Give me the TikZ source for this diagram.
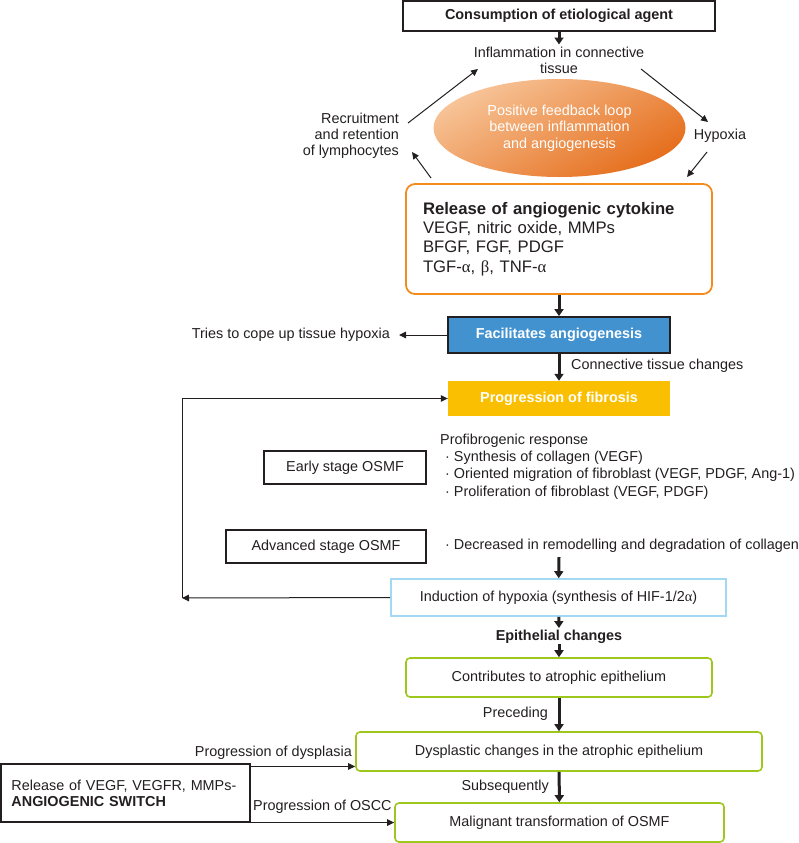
\documentclass[tikz,border=0pt]{standalone}
\usepackage{fontspec}
\setmainfont{Liberation Sans}
\newfontfamily\grkfont{Liberation Serif}
\usepackage{tikz}
\usetikzlibrary{
    arrows.meta,
    shapes.geometric
}
\definecolor{inkDark}{RGB}{35,31,32}
\definecolor{cytOrange}{RGB}{242,140,30}
\definecolor{loopLight}{RGB}{247,196,152}
\definecolor{loopDark}{RGB}{229,110,28}
\definecolor{angBlue}{RGB}{66,146,208}
\definecolor{fibGold}{RGB}{249,191,0}
\definecolor{hypBlue}{RGB}{163,216,243}
\definecolor{epiGreen}{RGB}{158,199,30}
\tikzset{
  lbl/.style     = {text=inkDark, inner sep=0pt, align=center,
                    font=\fontsize{14.4}{16}\selectfont},
  box/.style     = {lbl, draw=inkDark, line width=1.1pt},
  gbox/.style    = {lbl, draw=epiGreen, line width=1.6pt, rounded corners=4pt},
  arr/.style     = {-{Triangle[length=7pt,width=9pt]}, line width=3pt, inkDark},
  arrs/.style    = {-{Triangle[length=7pt,width=6.5pt]}, line width=1pt, inkDark}
}

\begin{document}
\begin{tikzpicture}[x=1pt, y=-1pt]
    \useasboundingbox (0,0) rectangle (799,843);

    \node[box, font=\fontsize{14.4}{16}\selectfont\bfseries,
          minimum width=312, minimum height=30] (consume) at (559,16)
          {Consumption of etiological agent};
    \node[lbl] (inflam) at (559,60) {Inflammation in connective\\tissue};
    \node[ellipse, inner sep=0pt, minimum width=252, minimum height=98,
          top color=loopLight, bottom color=loopDark, shading angle=30,
          text=white, align=center, font=\fontsize{14.4}{16.5}\selectfont]
          (loop) at (559.5,128)
          {Positive feedback loop\\between inflammation\\and angiogenesis};
    \node[lbl, align=right, anchor=east] (recruit) at (399,136)
          {Recruitment\\and retention\\of lymphocytes};
    \node[lbl] (hypo) at (720,136) {Hypoxia};

    \node[lbl, draw=cytOrange, line width=1.8pt, rounded corners=9pt,
          minimum width=306, minimum height=110, text width=272, align=left,
          font=\fontsize{16.7}{19.3}\selectfont] (cyto) at (559,239)
          {\textbf{Release of angiogenic cytokine}\\
           VEGF, nitric oxide, MMPs\\
           BFGF, FGF, PDGF\\
           TGF-{\grkfont α}, {\grkfont β}, TNF-{\grkfont α}};

    \node[box, fill=angBlue, line width=1.8pt, text=white,
          font=\fontsize{14.4}{16}\selectfont\bfseries,
          minimum width=222, minimum height=36] (angio) at (559,335)
          {Facilitates angiogenesis};
    \node[lbl, anchor=east] (tries) at (390,335) {Tries to cope up tissue hypoxia};
    \node[lbl, anchor=west] (ctc) at (571,366) {Connective tissue changes};
    \node[lbl, fill=fibGold, text=white,
          font=\fontsize{14.4}{16}\selectfont\bfseries,
          minimum width=222, minimum height=35] (fibro) at (559,398.5)
          {Progression of fibrosis};

    \node[box, minimum width=162, minimum height=33] (early) at (345,467.5)
          {Early stage OSMF};
    \node[lbl, anchor=west, align=left, font=\fontsize{14.4}{17.2}\selectfont]
          (profib) at (440,466.5)
          {Profibrogenic response\\
           \hspace{5pt}· Synthesis of collagen (VEGF)\\
           \hspace{5pt}· Oriented migration of fibroblast (VEGF, PDGF, Ang-1)\\
           \hspace{5pt}· Proliferation of fibroblast (VEGF, PDGF)};
    \node[box, minimum width=200, minimum height=33] (adv) at (326,546.5)
          {Advanced stage OSMF};
    \node[lbl, anchor=west] (decr) at (445,546)
          {· Decreased in remodelling and degradation of collagen};
    \coordinate (advArr) at (559,557);

    \node[lbl, draw=hypBlue, line width=1.6pt,
          minimum width=335, minimum height=37] (hypox) at (558.5,597.5)
          {Induction of hypoxia (synthesis of HIF-1/2{\grkfont α})};
    \coordinate (loopB) at (182,598);

    \node[lbl, font=\fontsize{14.4}{16}\selectfont\bfseries] (epi) at (559,637)
          {Epithelial changes};
    \node[gbox, minimum width=306, minimum height=39] (atroph) at (559,677.5)
          {Contributes to atrophic epithelium};
    \node[lbl, anchor=east] (prec) at (548,714) {Preceding};
    \node[gbox, minimum width=406, minimum height=39] (dysp) at (559,751.5)
          {Dysplastic changes in the atrophic epithelium};
    \node[lbl, anchor=east] (subs) at (549,787) {Subsequently};
    \node[gbox, minimum width=329, minimum height=39] (malig) at (559.5,822.5)
          {Malignant transformation of OSMF};

    \node[box, minimum width=249, minimum height=58, text width=228, align=left]
          (switch) at (125.5,793)
          {Release of VEGF, VEGFR, MMPs-\\\textbf{ANGIOGENIC SWITCH}};
    \node[lbl, anchor=east] (pdys) at (352,753) {Progression of dysplasia};
    \node[lbl, anchor=west] (poscc) at (253,807) {Progression of OSCC};

    % feedback loop round the ellipse
    \coordinate (lu0) at (408,123);  \coordinate (lu1) at (478,69);
    \coordinate (ru0) at (641,69);   \coordinate (ru1) at (708,122);
    \coordinate (rd0) at (707,152);  \coordinate (rd1) at (687,177);
    \coordinate (ld0) at (431,178);  \coordinate (ld1) at (412,152);
    \draw[arrs] (lu0) -- (lu1);
    \draw[arrs] (ru0) -- (ru1);
    \draw[arrs] (rd0) -- (rd1);
    \draw[arrs] (ld0) -- (ld1);

    % main column
    \draw[arr] (consume) -- ([yshift=2pt]inflam.north);
    \draw[arr] (cyto) -- (angio);
    \draw[arrs] (angio) -- (tries) [shorten >=9pt];
    \draw[arr] (angio) -- (fibro);
    \draw[arr] (advArr) -- (hypox);
    \draw[arrs] (hypox.west) -- (loopB);
    \draw[arrs] (loopB) |- (fibro.west);
    \draw[arr] (hypox) -- ([yshift=2pt]epi.north);
    \draw[arr] (epi) -- (atroph);
    \draw[arr] (atroph) -- (dysp);
    \draw[arr] (dysp) -- (malig);

    % angiogenic switch
    \draw[arrs] ([yshift=-3pt]switch.north east) -- ([yshift=-3pt]switch.north east -| dysp.west);
    \draw[arrs] (switch.south east) -- (switch.south east -| malig.west);
\end{tikzpicture}
\end{document}
